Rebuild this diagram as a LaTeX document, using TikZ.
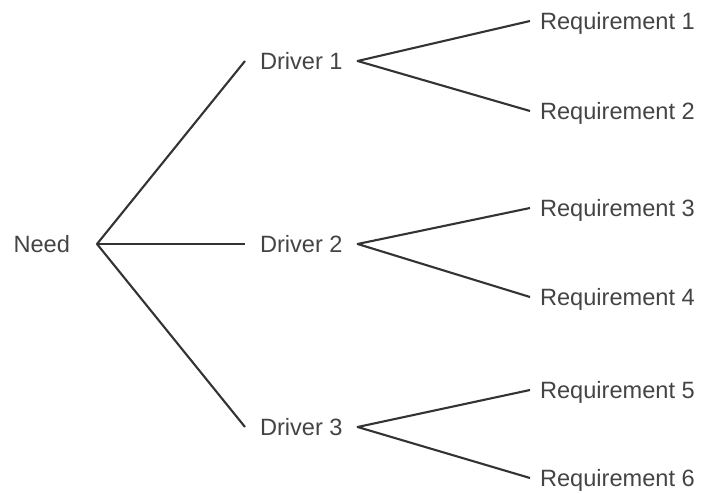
\documentclass[tikz,border=0pt]{standalone}
\usepackage{fontspec}
\setmainfont{Liberation Sans}
\definecolor{txt}{HTML}{444444}
\definecolor{ln}{HTML}{333333}
\begin{document}
\begin{tikzpicture}[x=1pt,y=-1pt,
  lbl/.style={inner sep=0pt, anchor=west, text=txt, font=\fontsize{23.6}{27}\selectfont, text height=17pt, text depth=0pt},
  drv/.style={lbl, outer xsep=15pt},
  req/.style={lbl, outer xsep=10pt},
  conn/.style={draw=ln, line width=2.1pt, line join=round}]
\useasboundingbox (0,0) rectangle (702,494);
\node[lbl, anchor=east, outer xsep=27pt] (need) at (97,244) {Need};
\node[drv] (d1) at (245,61) {Driver 1};
\node[drv] (d2) at (245,244) {Driver 2};
\node[drv] (d3) at (245,427) {Driver 3};
\node[req] (r1) at (530,21) {Requirement 1};
\node[req] (r2) at (530,111) {Requirement 2};
\node[req] (r3) at (530,208) {Requirement 3};
\node[req] (r4) at (530,297) {Requirement 4};
\node[req] (r5) at (530,390) {Requirement 5};
\node[req] (r6) at (530,478) {Requirement 6};
\draw[conn] (d1.west) -- (need.east) -- (d3.west);
\draw[conn] (need.east) -- (d2.west);
\draw[conn] (r1.west) -- (d1.east) -- (r2.west);
\draw[conn] (r3.west) -- (d2.east) -- (r4.west);
\draw[conn] (r5.west) -- (d3.east) -- (r6.west);
\end{tikzpicture}
\end{document}
